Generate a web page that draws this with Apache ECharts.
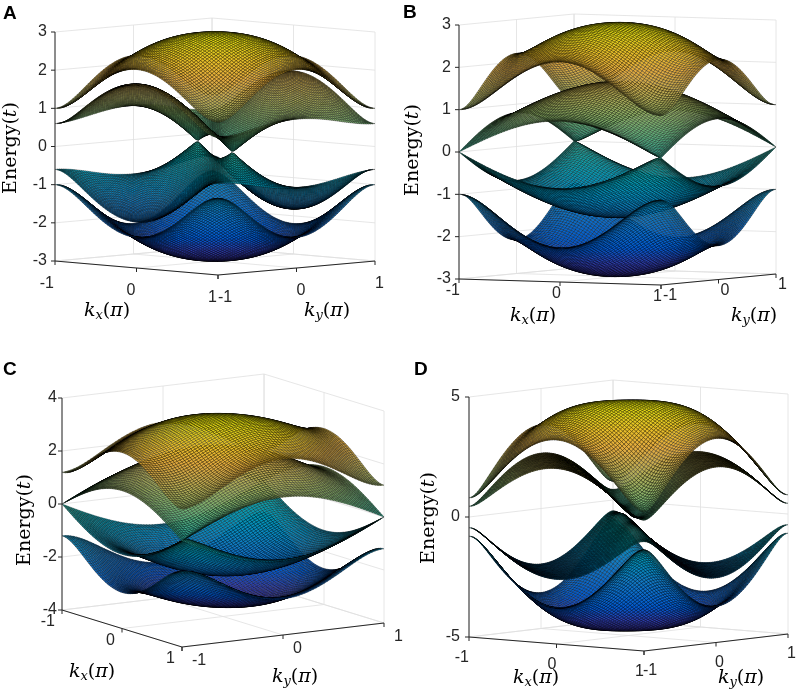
<!DOCTYPE html>
<html>
<head>
<meta charset="utf-8">
<script src="https://cdn.jsdelivr.net/npm/echarts@6/dist/echarts.min.js"></script>
<style>html,body{margin:0;padding:0;background:#fff}#chart{width:796px;height:696px}</style>
</head>
<body>
<div id="chart"></div>
<script>
// ---------------- data ----------------
const panelLetters = ['A', 'B', 'C', 'D'];
const kTicks = [-1, 0, 1];
const energyTicksA = [-3, -2, -1, 0, 1, 2, 3];
const energyTicksB = [-3, -2, -1, 0, 1, 2, 3];
const energyTicksC = [-4, -2, 0, 2, 4];
const energyTicksD = [-5, 0, 5];
// band model: each term [amplitude, nx, ny] -> amplitude * exp(i*pi*(nx*kx + ny*ky)); E = ±sqrt(|f|^2 + m^2)
const bandTermsA1 = [[2.1, 0, 0], [0.5, 1, 0], [0.5, 0, 1], [-0.1, 1, 1]];
const bandTermsA2 = [[0.45, 0, 0], [0.6, 1, 0], [-0.75, 0, -1]];
const bandMassA = [0, 0];
const bandTermsB1 = [[2.1, 0, 0], [0.5, 1, 0], [0.5, 0, 1], [-0.1, 1, 1]];
const bandTermsB2 = [[0.8, 0, 0], [0.4, 1, 0], [0.4, 0, 1]];
const bandMassB = [0, 0];
const bandTermsC1 = [[2.52, 0, 0], [0.6, 1, 0], [0.6, 0, 1], [-0.12, 1, 1]];
const bandTermsC2 = [[1.2, 0, 0], [0.6, 1, 0], [0.6, 0, 1]];
const bandMassC = [0, 0];
const bandTermsD1 = [[3.15, 0, 0], [1, 1, 0], [1, 0, 1], [-0.35, 1, 1]];
const bandTermsD2 = [[1.0875, 0, 0], [0.1375, 1, 0], [0.1375, 0, 1], [-1.2125, 1, 1]];
const bandMassD = [0, 0.2];
const meshCells = 72;

// ---------------- layout (pixel geometry of each 3-D box) ----------------
const panels = [
  {letter: panelLetters[0], eTicks: energyTicksA, terms: [bandTermsA1, bandTermsA2], mass: bandMassA,
   O: [55, 261], Vx: [163, 14], Vy: [157, -14], Vz: [0, -229],
   eDx: -8, kxOff: [-1, 23], kyOff: [0, 23], eTitle: [11, 148], kxTitle: [107, 311], kyTitle: [327, 311], letterPos: [3, 14]},
  {letter: panelLetters[1], eTicks: energyTicksB, terms: [bandTermsB1, bandTermsB2], mass: bandMassB,
   O: [459, 279], Vx: [202, 6], Vy: [115, -11], Vz: [0, -254],
   eDx: -8, kxOff: [1, 12], kyOff: [2, 11], eTitle: [413, 150], kxTitle: [533, 316], kyTitle: [754, 316], letterPos: [403, 13]},
  {letter: panelLetters[2], eTicks: energyTicksC, terms: [bandTermsC1, bandTermsC2], mass: bandMassC,
   O: [62, 610], Vx: [120, 37], Vy: [202, -24], Vz: [0, -212],
   eDx: -5, kxOff: [-7, 12], kyOff: [10, 14], eTitle: [25, 520], kxTitle: [92, 672], kyTitle: [295, 677], letterPos: [3, 370]},
  {letter: panelLetters[3], eTicks: energyTicksD, terms: [bandTermsD1, bandTermsD2], mass: bandMassD,
   O: [469, 637], Vx: [175, 14], Vy: [144, -17], Vz: [0, -240],
   eDx: -9, kxOff: [0, 21], kyOff: [-1, 20], eTitle: [429, 518], kxTitle: [536, 678], kyTitle: [741, 678], letterPos: [414, 370]}
];

// parula colormap (every 4th entry of the 64-step map)
const parula = [
  [0.2081, 0.1663, 0.5292], [0.1959, 0.2645, 0.7279], [0.0117, 0.3875, 0.8820], [0.0498, 0.4586, 0.8641],
  [0.0793, 0.5200, 0.8312], [0.0343, 0.5966, 0.8199], [0.0228, 0.6535, 0.7768], [0.0843, 0.6928, 0.7062],
  [0.2178, 0.7250, 0.6193], [0.3953, 0.7459, 0.5244], [0.5709, 0.7485, 0.4494], [0.7184, 0.7411, 0.3905],
  [0.8507, 0.7299, 0.3360], [0.9739, 0.7314, 0.2666], [0.9880, 0.8066, 0.1794], [0.9589, 0.8949, 0.1132],
  [0.9763, 0.9831, 0.0538]
];
const parulaPos = parula.map((_, i) => Math.min(1, i * 4 / 63));
const meshShade = 0.92;
function parulaColor(t) {
  t = Math.max(0, Math.min(1, t));
  let i = 0;
  while (i < parula.length - 2 && t > parulaPos[i + 1]) i++;
  const t0 = parulaPos[i], t1 = parulaPos[i + 1], c0 = parula[i], c1 = parula[i + 1];
  const f = Math.min(1, (t - t0) / (t1 - t0));
  const c = c0.map((v, j) => Math.round(255 * meshShade * (v + (c1[j] - v) * f)));
  return 'rgb(' + c.join(',') + ')';
}

function bandMagnitude(terms, m, kx, ky) {
  let re = 0, im = 0;
  for (const [a, nx, ny] of terms) {
    const ph = Math.PI * (nx * kx + ny * ky);
    re += a * Math.cos(ph); im += a * Math.sin(ph);
  }
  return Math.sqrt(re * re + im * im + m * m);
}

function makeProjector(P) {
  const et = P.eTicks, Emin = et[0], Emax = et[et.length - 1];
  const proj = (kx, ky, E) => {
    const a = (kx + 1) / 2, b = (ky + 1) / 2, c = (E - Emin) / (Emax - Emin);
    return [P.O[0] + P.Vx[0] * a + P.Vy[0] * b + P.Vz[0] * c,
            P.O[1] + P.Vx[1] * a + P.Vy[1] * b + P.Vz[1] * c];
  };
  const r1 = [P.Vx[0], P.Vy[0], P.Vz[0]], r2 = [P.Vx[1], P.Vy[1], P.Vz[1]];
  let d = [r1[1] * r2[2] - r1[2] * r2[1], r1[2] * r2[0] - r1[0] * r2[2], r1[0] * r2[1] - r1[1] * r2[0]];
  if (d[0] - d[1] < 0) d = d.map(v => -v);
  const depth = (kx, ky, E) => d[0] * (kx + 1) / 2 + d[1] * (ky + 1) / 2 + d[2] * (E - Emin) / (Emax - Emin);
  return {proj, depth, Emin, Emax};
}

// build sorted cells for every panel
const panelCells = panels.map(P => {
  const {proj, depth} = makeProjector(P);
  const n = meshCells;
  const ks = [];
  for (let i = 0; i <= n; i++) ks.push(-1 + 2 * i / n);
  const surfaces = [];
  P.terms.forEach((terms, bi) => {
    const mag = ks.map(kx => ks.map(ky => bandMagnitude(terms, P.mass[bi], kx, ky)));
    surfaces.push(mag);
    surfaces.push(mag.map(row => row.map(v => -v)));
  });
  let lo = Infinity, hi = -Infinity;
  surfaces.forEach(s => s.forEach(r => r.forEach(v => { lo = Math.min(lo, v); hi = Math.max(hi, v); })));
  const cells = [];
  surfaces.forEach(S => {
    for (let i = 0; i < n; i++) for (let j = 0; j < n; j++) {
      const q = [[i, j], [i + 1, j], [i + 1, j + 1], [i, j + 1]];
      const pts = q.map(([a, b]) => proj(ks[a], ks[b], S[a][b]));
      const eAvg = (S[i][j] + S[i + 1][j] + S[i + 1][j + 1] + S[i][j + 1]) / 4;
      const dep = depth((ks[i] + ks[i + 1]) / 2, (ks[j] + ks[j + 1]) / 2, eAvg);
      cells.push({pts, dep, fill: parulaColor((eAvg - lo) / (hi - lo))});
    }
  });
  cells.sort((a, b) => a.dep - b.dep);
  return cells;
});

const serif = 'DejaVu Serif';
const sans = 'Liberation Sans, Arial, Helvetica, sans-serif';
const richMath = {
  r: {fontFamily: serif, fontSize: 19, color: '#262626', lineHeight: 24},
  i: {fontFamily: serif, fontSize: 19, fontStyle: 'italic', color: '#262626', lineHeight: 24},
  s: {fontFamily: serif, fontSize: 13, fontStyle: 'italic', color: '#262626', lineHeight: 24, padding: [9, 0, 0, 0]}
};

function renderFrame(params, api, behind) {
  const P = panels[params.dataIndex];
  const {proj, Emin, Emax} = makeProjector(P);
  const c = pt => api.coord(pt);
  const children = [];
  const line = (p1, p2, color, w) => children.push({type: 'line', shape: {x1: c(p1)[0], y1: c(p1)[1], x2: c(p2)[0], y2: c(p2)[1]}, style: {stroke: color, lineWidth: w}});
  if (behind) {
    const g = '#e0e0e0';
    P.eTicks.forEach(E => {
      line(proj(-1, -1, E), proj(-1, 1, E), g, 0.8);
      line(proj(-1, 1, E), proj(1, 1, E), g, 0.8);
    });
    kTicks.forEach(t => {
      line(proj(-1, t, Emin), proj(-1, t, Emax), g, 0.8);
      line(proj(t, 1, Emin), proj(t, 1, Emax), g, 0.8);
      line(proj(t, -1, Emin), proj(t, 1, Emin), g, 0.8);
      line(proj(-1, t, Emin), proj(1, t, Emin), g, 0.8);
    });
    return {type: 'group', children};
  }
  const ax = '#262626';
  line(proj(-1, -1, Emin), proj(-1, -1, Emax), ax, 1);
  line(proj(-1, -1, Emin), proj(1, -1, Emin), ax, 1);
  line(proj(1, -1, Emin), proj(1, 1, Emin), ax, 1);
  P.eTicks.forEach(E => {
    const p = proj(-1, -1, E);
    line(p, [p[0] - 4, p[1]], ax, 1);
    const q = c([p[0] + P.eDx, p[1]]);
    children.push({type: 'text', style: {text: String(E), x: q[0], y: q[1], align: 'right', verticalAlign: 'middle', fontFamily: sans, fontSize: 16, fill: '#262626'}});
  });
  kTicks.forEach(t => {
    const p = proj(t, -1, Emin);
    line(p, [p[0], p[1] + 4], ax, 1);
    const q = c([p[0] + P.kxOff[0], p[1] + P.kxOff[1]]);
    children.push({type: 'text', style: {text: String(t), x: q[0], y: q[1], align: 'right', verticalAlign: 'middle', fontFamily: sans, fontSize: 16, fill: '#262626'}});
    const p2 = proj(1, t, Emin);
    line(p2, [p2[0], p2[1] + 4], ax, 1);
    const q2 = c([p2[0] + P.kyOff[0], p2[1] + P.kyOff[1]]);
    children.push({type: 'text', style: {text: String(t), x: q2[0], y: q2[1], align: 'left', verticalAlign: 'middle', fontFamily: sans, fontSize: 16, fill: '#262626'}});
  });
  const et = c(P.eTitle);
  children.push({type: 'text', x: et[0], y: et[1], rotation: Math.PI / 2,
    style: {text: '{r|Energy(}{i|t}{r|)}', rich: richMath, x: 0, y: 0, align: 'center', verticalAlign: 'middle'}});
  const kt = c(P.kxTitle);
  children.push({type: 'text', style: {text: '{i|k}{s|x}{r|(}{i|π}{r|)}', rich: richMath, x: kt[0], y: kt[1], align: 'center', verticalAlign: 'middle'}});
  const ky = c(P.kyTitle);
  children.push({type: 'text', style: {text: '{i|k}{s|y}{r|(}{i|π}{r|)}', rich: richMath, x: ky[0], y: ky[1], align: 'center', verticalAlign: 'middle'}});
  const lp = c(P.letterPos);
  children.push({type: 'text', style: {text: P.letter, x: lp[0], y: lp[1], align: 'left', verticalAlign: 'middle', fontFamily: sans, fontWeight: 'bold', fontSize: 19, fill: '#000'}});
  return {type: 'group', children};
}

function renderSurface(params, api) {
  const cells = panelCells[params.dataIndex];
  return {
    type: 'group',
    children: cells.map(cell => ({
      type: 'polygon',
      shape: {points: cell.pts.map(pt => api.coord(pt))},
      style: {fill: cell.fill, stroke: 'rgba(0,0,0,0.62)', lineWidth: 0.5}
    }))
  };
}

const frameData = panels.map((P, i) => [P.O[0], P.O[1], i]);
const chart = echarts.init(document.getElementById('chart'), null, {renderer: 'canvas'});
chart.setOption({
  animation: false,
  backgroundColor: '#fff',
  grid: {left: 0, right: 0, top: 0, bottom: 0},
  xAxis: {type: 'value', min: 0, max: 796, show: false},
  yAxis: {type: 'value', min: 0, max: 696, inverse: true, show: false},
  series: [
    {type: 'custom', silent: true, renderItem: (p, a) => renderFrame(p, a, true), data: frameData, encode: {x: 0, y: 1}, z: 1},
    {type: 'custom', silent: true, renderItem: renderSurface, data: frameData, encode: {x: 0, y: 1}, z: 2},
    {type: 'custom', silent: true, renderItem: (p, a) => renderFrame(p, a, false), data: frameData, encode: {x: 0, y: 1}, z: 3}
  ]
});
</script>
</body>
</html>
